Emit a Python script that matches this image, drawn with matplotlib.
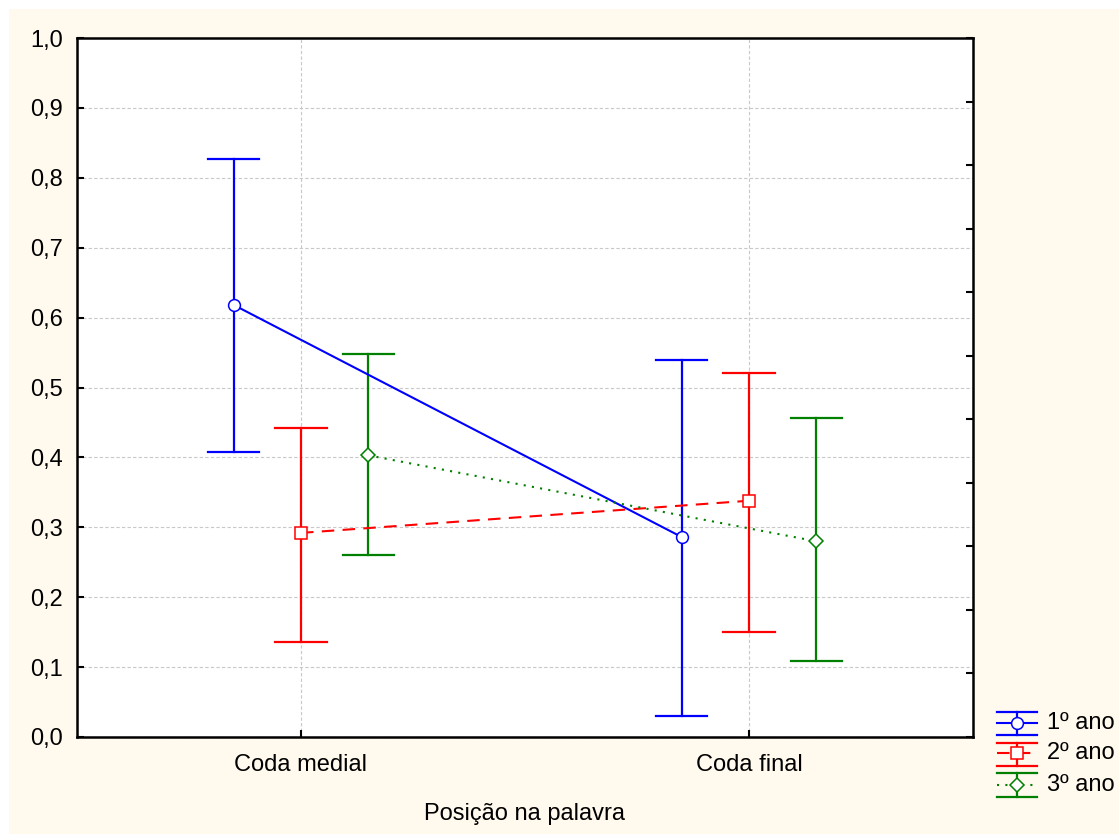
import numpy as np
import matplotlib
matplotlib.use('Agg')
import matplotlib.pyplot as plt
from matplotlib.lines import Line2D
from matplotlib.patches import Rectangle

plt.rcParams['font.family'] = ['Liberation Sans', 'DejaVu Sans']

# dados
categorias = ['Coda medial', 'Coda final']
series = ['1º ano', '2º ano', '3º ano']
medias = [[0.618, 0.286],
          [0.292, 0.338],
          [0.403, 0.280]]
superior = [[0.827, 0.539],
            [0.442, 0.521],
            [0.548, 0.456]]
inferior = [[0.408, 0.030],
            [0.136, 0.150],
            [0.260, 0.109]]

cores = ['#0000ff', '#ff0000', '#008000']
estilos = ['-', (0, (6, 4)), (0, (1, 3))]
marcadores = ['o', 's', 'D']
tam_marc = [8.5, 8, 7]
desloc = [-0.15, 0.0, 0.15]
cap = 0.057
fs = 17

fig = plt.figure(figsize=(11.19, 8.34), dpi=100)
fig.patch.set_facecolor('white')
fig.patches.append(Rectangle((9 / 1119, 0), 1, 1 - 9 / 834, transform=fig.transFigure,
                             facecolor='#fff9ee', edgecolor='none', zorder=-10))

ax = fig.add_axes([77 / 1119, 97 / 834, 896 / 1119, 699 / 834])
ax.set_facecolor('white')

x = np.arange(len(categorias))
for i in range(3):
    xs = x + desloc[i]
    ax.plot(xs, medias[i], linestyle=estilos[i], color=cores[i], lw=1.5, zorder=3)
    for j in range(len(categorias)):
        ax.plot([xs[j], xs[j]], [inferior[i][j], superior[i][j]], color=cores[i], lw=1.6, zorder=2)
        ax.plot([xs[j] - cap, xs[j] + cap], [superior[i][j]] * 2, color=cores[i], lw=1.6, zorder=2)
        ax.plot([xs[j] - cap, xs[j] + cap], [inferior[i][j]] * 2, color=cores[i], lw=1.6, zorder=2)
    ax.plot(xs, medias[i], linestyle='none', marker=marcadores[i], markersize=tam_marc[i],
            markerfacecolor='white', markeredgecolor=cores[i], markeredgewidth=1.1, zorder=4)

ax.set_xlim(-0.5, 1.5)
ax.set_ylim(0, 1)
ax.set_xticks(x)
ax.set_xticklabels(categorias, fontsize=fs)
ax.set_yticks(np.arange(0, 1.01, 0.1))
ax.yaxis.set_major_formatter(plt.FuncFormatter(lambda v, p: ('%.1f' % v).replace('.', ',')))
ax.tick_params(axis='y', labelsize=fs)
ax.tick_params(direction='in', length=5, width=1.5, pad=10, colors='black')
ax.tick_params(axis='x', pad=12)
ax.grid(True, color='#c8c8c8', linestyle=(0, (3, 2)), lw=0.8)
ax.set_axisbelow(True)
for s in ax.spines.values():
    s.set_linewidth(1.8)
ax.set_xlabel('Posição na palavra', fontsize=fs, labelpad=20)

# eixo direito com marcas próprias
ax2 = ax.twinx()
ax2.set_ylim(0, 1)
ax2.set_yticks(np.linspace(0, 1, 12))
ax2.set_yticklabels([])
ax2.tick_params(direction='in', length=5, width=1.5)
for s in ax2.spines.values():
    s.set_visible(False)

# legenda manual
W, H = 1119, 834
linhas = [(712, 723, 735), (743, 753, 766), (773, 785, 797)]
for i, (yt, ym, yb) in enumerate(linhas):
    x0, x1, xc = 997 / W, 1037 / W, 1017 / W
    for yy in (yt, yb):
        fig.add_artist(Line2D([x0, x1], [1 - yy / H] * 2, color=cores[i], lw=1.6))
    fig.add_artist(Line2D([xc, xc], [1 - yt / H, 1 - yb / H], color=cores[i], lw=1.6))
    fig.add_artist(Line2D([x0, x1], [1 - ym / H] * 2, color=cores[i], lw=1.5, linestyle=estilos[i]))
    fig.add_artist(Line2D([xc], [1 - ym / H], marker=marcadores[i], markersize=tam_marc[i],
                          markerfacecolor='white', markeredgecolor=cores[i], markeredgewidth=1.1,
                          linestyle='none'))
    fig.text(1047 / W, 1 - ym / H, series[i], fontsize=fs, va='center', ha='left')

fig.savefig('out.png', dpi=100, facecolor=fig.get_facecolor())
